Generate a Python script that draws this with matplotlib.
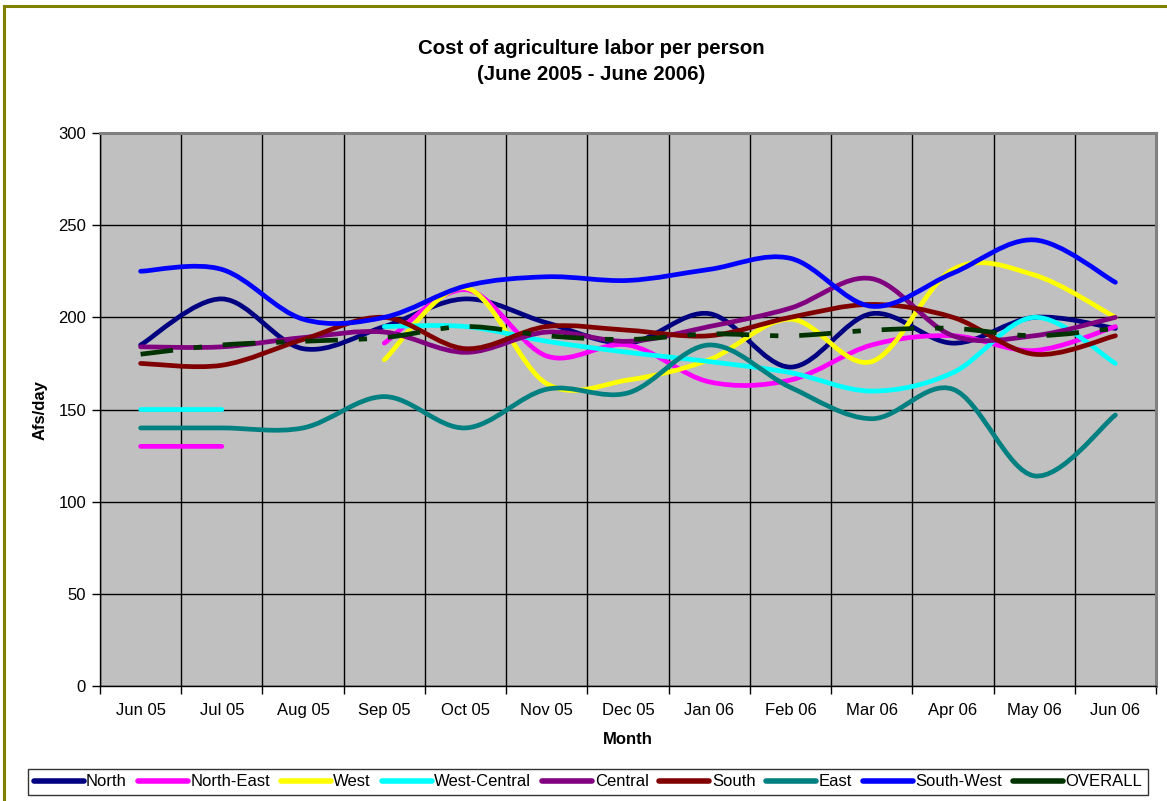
import matplotlib
matplotlib.use("Agg")
import matplotlib.pyplot as plt
from matplotlib.path import Path
from matplotlib.patches import PathPatch, Rectangle
from matplotlib.lines import Line2D
import numpy as np

plt.rcParams['font.family'] = ['Liberation Sans', 'DejaVu Sans']
plt.rcParams['lines.scale_dashes'] = False

months = ["Jun 05", "Jul 05", "Aug 05", "Sep 05", "Oct 05", "Nov 05", "Dec 05",
          "Jan 06", "Feb 06", "Mar 06", "Apr 06", "May 06", "Jun 06"]

north = [185, 210, 183, 195, 210, 197, 186, 202, 173, 202, 186, 200, 194]
north_east = [130, 130, None, 186, 215, 179, 185, 165, 166, 185, 190, 182, 195]
west = [None, None, None, 177, 216, 164, 166, 177, 199, 176, 226, 223, 200]
west_central = [150, 150, None, 195, 195, 187, 181, 176, 170, 160, 170, 200, 175]
central = [184, 184, 189, 192, 181, 192, 187, 195, 205, 221, 190, 190, 200]
south = [175, 174, 188, 200, 183, 195, 193, 190, 200, 207, 200, 180, 190]
east = [140, 140, 140, 157, 140, 161, 159, 185, 162, 145, 161, 114, 147]
south_west = [225, 226, 199, 200, 217, 222, 220, 226, 232, 206, 224, 242, 219]
overall = [180, 185, 187, 189, 195, 190, 188, 191, 190, 193, 194, 190, 194]

series_names = ["North", "North-East", "West", "West-Central", "Central",
                "South", "East", "South-West", "OVERALL"]
series_vals = [north, north_east, west, west_central, central, south, east,
               south_west, overall]
series_colors = ["#000080", "#FF00FF", "#FFFF00", "#00FFFF", "#800080",
                 "#800000", "#008080", "#0000FF", "#003300"]

W, H = 1167, 801
fig = plt.figure(figsize=(W / 100, H / 100), dpi=100)

# outer frame (olive)
fig.patches.append(Rectangle((4 / W, -0.1), 2.0, 1 - 6 / H + 0.1, transform=fig.transFigure,
                             fill=False, edgecolor="#808000", linewidth=2.2, zorder=0))

ax = fig.add_axes([100 / W, 1 - 686 / H, 1056 / W, (686 - 133) / H])
ax.set_facecolor("#C0C0C0")
ax.set_xlim(-0.5, len(months) - 0.5)
ax.set_ylim(0, 300)


def segments(vals):
    seg = []
    for i, v in enumerate(vals):
        if v is None:
            if seg:
                yield seg
            seg = []
        else:
            seg.append((i, v))
    if seg:
        yield seg


def smooth_path(pts):
    p = np.array(pts, dtype=float)
    n = len(p)
    verts = [p[0]]
    codes = [Path.MOVETO]
    if n == 1:
        return Path(verts, codes)
    for i in range(n - 1):
        p0 = p[i - 1] if i > 0 else p[i]
        p1 = p[i]
        p2 = p[i + 1]
        p3 = p[i + 2] if i + 2 < n else p[i + 1]
        c1 = p1 + (p2 - p0) / 6.0
        c2 = p2 - (p3 - p1) / 6.0
        verts += [c1, c2, p2]
        codes += [Path.CURVE4] * 3
    return Path(verts, codes)


lw = 3.4
dash = (0, (23.5, 15.0, 6.0, 15.0))
for name, vals, col in zip(series_names, series_vals, series_colors):
    for seg in segments(vals):
        path = smooth_path(seg)
        if name == "OVERALL":
            patch = PathPatch(path, fill=False, edgecolor=col, linewidth=lw,
                              linestyle=dash, capstyle='butt', joinstyle='round', zorder=3)
        else:
            patch = PathPatch(path, fill=False, edgecolor=col, linewidth=lw,
                              capstyle='round', joinstyle='round', zorder=3)
        ax.add_patch(patch)

ax.set_xticks(range(len(months)))
ax.set_xticklabels(months, fontsize=12)
ax.set_xticks(np.arange(-0.5, len(months), 1.0), minor=True)
ax.tick_params(axis='x', which='major', length=0, pad=12)
ax.tick_params(axis='x', which='minor', length=6, width=1, direction='out', color='black')
ax.set_yticks(np.arange(0, 301, 50))
ax.tick_params(axis='y', which='major', length=6, width=1, direction='out', labelsize=12, pad=4)
ax.grid(True, axis='y', which='major', color='black', linewidth=1.0, zorder=1)
ax.grid(True, axis='x', which='minor', color='black', linewidth=1.0, zorder=1)
ax.set_axisbelow(True)

for s in ['left', 'bottom']:
    ax.spines[s].set_color('black')
    ax.spines[s].set_linewidth(1.0)
for s in ['top', 'right']:
    ax.spines[s].set_color('#808080')
    ax.spines[s].set_linewidth(2.2)

fig.text(591 / W, 1 - 48 / H, "Cost of agriculture labor per person", ha='center', va='center',
         fontsize=14.7, fontweight='bold')
fig.text(591 / W, 1 - 75 / H, "(June 2005 - June 2006)", ha='center', va='center',
         fontsize=14.7, fontweight='bold')
fig.text(40 / W, 1 - 410 / H, "Afs/day", rotation=90, ha='center', va='center',
         fontsize=12, fontweight='bold')
fig.text(628 / W, 1 - 740 / H, "Month", ha='center', va='center',
         fontsize=12, fontweight='bold')

handles = []
for name, col in zip(series_names, series_colors):
    handles.append(Line2D([0], [0], color=col, linewidth=lw + 0.6,
                          solid_capstyle='round'))
leg = fig.legend(handles, series_names, loc='center', bbox_to_anchor=(588 / W, 1 - 782 / H),
                 ncol=9, fontsize=12, frameon=True, fancybox=False, edgecolor='black',
                 handlelength=3.0, handletextpad=0.15, columnspacing=0.65,
                 borderpad=0.35, borderaxespad=0)
leg.get_frame().set_linewidth(1.0)

fig.savefig("out.png", dpi=100)
